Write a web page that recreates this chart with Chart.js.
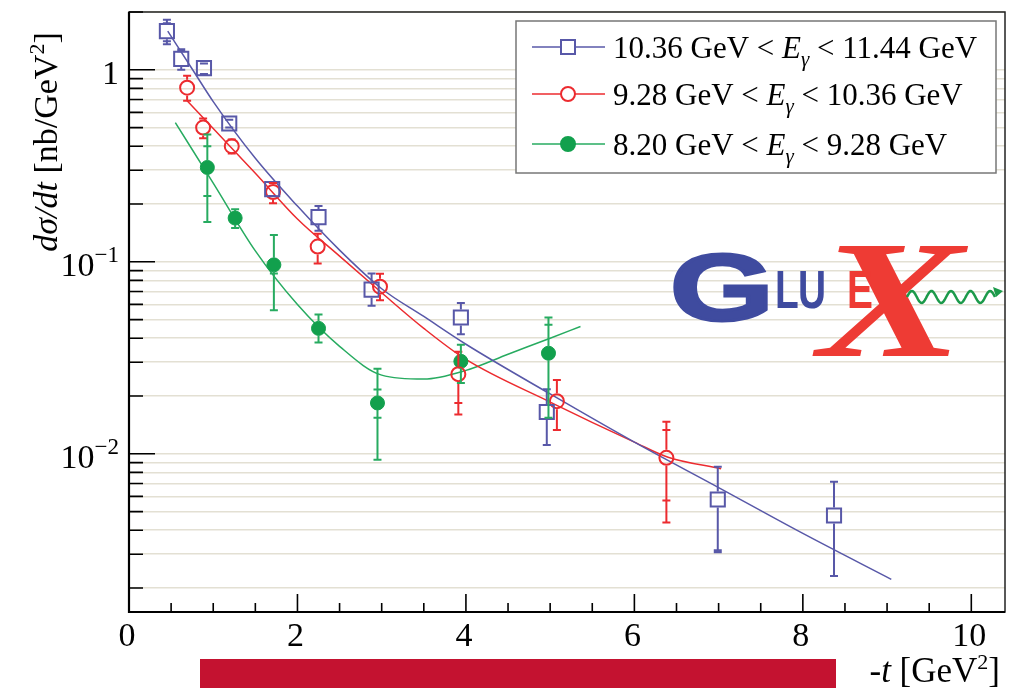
<!DOCTYPE html>
<html>
<head>
<meta charset="utf-8">
<script src="https://cdn.jsdelivr.net/npm/chart.js@4.4.1/dist/chart.umd.min.js"></script>
<style>
  body { margin: 0; background: #fff; }
  canvas { display: block; }
</style>
</head>
<body>
<canvas id="chart" width="1028" height="688"></canvas>
<script>
// Photon energy bins (legend)
var eLow = ['10.36', '9.28', '8.20'];
var eHigh = ['11.44', '10.36', '9.28'];

// 10.36 < E < 11.44 GeV
var blueT = [0.45, 0.62, 0.89, 1.19, 1.70, 2.25, 2.88, 3.94, 4.96, 6.99, 8.37];
var blueY = [1.59, 1.14, 1.02, 0.525, 0.239, 0.171, 0.0716, 0.0513, 0.0165, 0.00578, 0.00477];
var blueHi = [1.82, 1.28, 1.08, 0.55, 0.26, 0.195, 0.087, 0.061, 0.0217, 0.00857, 0.00716];
var blueLo = [1.36, 1.0, 0.95, 0.50, 0.22, 0.145, 0.059, 0.042, 0.0111, 0.00307, 0.00231];
var blueStatHi = [1.75, 1.25, null, null, null, null, null, null, null, null, null];
var blueStatLo = [1.41, null, null, null, null, null, null, null, null, 0.00315, null];

// 9.28 < E < 10.36 GeV
var redT = [0.69, 0.88, 1.22, 1.71, 2.24, 2.98, 3.91, 5.08, 6.38];
var redY = [0.807, 0.50, 0.40, 0.231, 0.12, 0.0742, 0.026, 0.0188, 0.00953];
var redHi = [0.93, 0.557, 0.434, 0.257, 0.14, 0.0866, 0.034, 0.0242, 0.0147];
var redLo = [0.69, 0.44, 0.367, 0.202, 0.098, 0.063, 0.016, 0.0133, 0.00439];
var redStatHi = [null, null, null, null, null, null, null, null, 0.0133];
var redStatLo = [null, null, null, null, null, null, 0.0184, null, 0.00571];

// 8.20 < E < 9.28 GeV
var greenT = [0.93, 1.26, 1.72, 2.25, 2.95, 3.94, 4.98];
var greenY = [0.31, 0.169, 0.0964, 0.045, 0.0184, 0.0303, 0.0334];
var greenHi = [0.46, 0.188, 0.138, 0.0532, 0.0277, 0.037, 0.0513];
var greenLo = [0.161, 0.15, 0.0559, 0.038, 0.0093, 0.0234, 0.0154];
var greenStatHi = [0.40, null, null, null, 0.0216, null, 0.047];
var greenStatLo = [0.22, null, 0.087, null, 0.0154, null, null];

// fit curves
var blueFitT = [0.46, 0.75, 1.0, 1.5, 2.0, 2.5, 3.0, 3.5, 4.0, 5.0, 6.0, 7.0, 8.0, 9.05];
var blueFitY = [1.59, 1.01, 0.683, 0.346, 0.195, 0.115, 0.0724, 0.0519, 0.0372, 0.0205, 0.0115, 0.00667, 0.00385, 0.00222];
var redFitT = [0.69, 1.0, 1.5, 2.0, 2.5, 3.0, 3.5, 4.0, 5.0, 6.0, 6.4, 7.03];
var redFitY = [0.69, 0.494, 0.289, 0.167, 0.107, 0.069, 0.045, 0.031, 0.0186, 0.0115, 0.0096, 0.00836];
var greenFitT = [0.55, 1.0, 1.5, 2.0, 2.5, 3.0, 3.5, 4.0, 4.5, 5.0, 5.36];
var greenFitY = [0.531, 0.257, 0.114, 0.0599, 0.0363, 0.0257, 0.0245, 0.0272, 0.033, 0.040, 0.046];

// axis ticks
var xMajor = [0, 2, 4, 6, 8, 10];
var yMajor = [1, 0.1, 0.01];
var yMajorExp = ['', '\u22121', '\u22122'];

var BLUE = '#5858a8';
var RED = '#ec2b2f';
var GREEN = '#12a04d';
var GREEN_LINE = '#27ab60';
var SERIF = '"Liberation Serif", "Times New Roman", serif';

function pts(xs, ys) {
    return xs.map(function(x, i) { return { x: x, y: ys[i] }; });
}

// minor log grid: 2..9 x 10^n plus the decades
var yGrid = [];
for (var e = -3; e <= 0; e++) {
    for (var m = 1; m <= 9; m++) {
        var v = m * Math.pow(10, e);
        if (v >= 0.0015 && v <= 2.0) yGrid.push(v);
    }
}

// error bars, ROOT style (no line inside the marker), caps at total and stat ends
function drawErrors(ch, xs, ys, lo, hi, sLo, sHi, color, gap) {
    var c = ch.ctx, sx = ch.scales.x, sy = ch.scales.y;
    c.save();
    c.strokeStyle = color;
    c.lineWidth = 2;
    for (var i = 0; i < xs.length; i++) {
        var px = sx.getPixelForValue(xs[i]);
        var py = sy.getPixelForValue(ys[i]);
        var pHi = sy.getPixelForValue(hi[i]);
        var pLo = sy.getPixelForValue(lo[i]);
        c.beginPath();
        if (py - gap > pHi) { c.moveTo(px, py - gap); c.lineTo(px, pHi); }
        if (py + gap < pLo) { c.moveTo(px, py + gap); c.lineTo(px, pLo); }
        c.moveTo(px - 4, pHi); c.lineTo(px + 4, pHi);
        c.moveTo(px - 4, pLo); c.lineTo(px + 4, pLo);
        [sHi[i], sLo[i]].forEach(function(s) {
            if (s === null) return;
            var ps = sy.getPixelForValue(s);
            c.moveTo(px - 4, ps); c.lineTo(px + 4, ps);
        });
        c.stroke();
    }
    c.restore();
}

// text pieces: [text, font, dy]
function drawPieces(c, pieces, x, y) {
    pieces.forEach(function(p) {
        c.font = p[1];
        c.fillText(p[0], x, y + (p[2] || 0));
        x += c.measureText(p[0]).width;
    });
    return x;
}
function piecesWidth(c, pieces) {
    var w = 0;
    pieces.forEach(function(p) { c.font = p[1]; w += c.measureText(p[0]).width; });
    return w;
}

function drawMarker(c, kind, x, y, color) {
    c.save();
    c.lineWidth = 2;
    c.strokeStyle = color;
    c.fillStyle = kind === 'dot' ? color : '#fff';
    c.beginPath();
    if (kind === 'square') c.rect(x - 7, y - 7, 14, 14);
    else c.arc(x, y, 7, 0, Math.PI * 2);
    c.fill();
    c.stroke();
    c.restore();
}

var rootStyle = {
    id: 'rootStyle',
    afterDatasetsDraw: function(ch) {
        drawErrors(ch, blueT, blueY, blueLo, blueHi, blueStatLo, blueStatHi, BLUE, 8);
        drawErrors(ch, redT, redY, redLo, redHi, redStatLo, redStatHi, RED, 8);
        drawErrors(ch, greenT, greenY, greenLo, greenHi, greenStatLo, greenStatHi, GREEN_LINE, 7);
    },
    afterDraw: function(ch) {
        var c = ch.ctx, a = ch.chartArea, sx = ch.scales.x, sy = ch.scales.y;
        c.save();

        // frame
        c.strokeStyle = '#222';
        c.lineWidth = 1.5;
        c.strokeRect(a.left, a.top, a.right - a.left, a.bottom - a.top);
        c.strokeStyle = '#000';
        c.lineWidth = 2.2;
        c.beginPath();
        c.moveTo(a.left, a.top); c.lineTo(a.left, a.bottom); c.lineTo(a.right, a.bottom);
        c.stroke();

        // ticks
        c.lineWidth = 1.6;
        c.beginPath();
        for (var t = 0; t <= 10.01; t += 0.5) {
            var px = sx.getPixelForValue(t);
            var len = (Math.abs(t % 2) < 0.01) ? 18 : 9;
            c.moveTo(px, a.bottom); c.lineTo(px, a.bottom - len);
        }
        yGrid.forEach(function(v) {
            var py = sy.getPixelForValue(v);
            var len = yMajor.indexOf(v) >= 0 ? 26 : 14;
            c.moveTo(a.left, py); c.lineTo(a.left + len, py);
        });
        c.stroke();

        // tick labels
        c.fillStyle = '#000';
        c.textBaseline = 'alphabetic';
        c.font = '34px ' + SERIF;
        c.textAlign = 'center';
        xMajor.forEach(function(t) {
            c.fillText(String(t), sx.getPixelForValue(t) - 2, 646);
        });
        c.textAlign = 'left';
        yMajor.forEach(function(v, i) {
            var py = sy.getPixelForValue(v);
            var pieces = yMajorExp[i] ? [['10', '34px ' + SERIF, 0], [yMajorExp[i], '23px ' + SERIF, -14]] : [['1', '34px ' + SERIF, 0]];
            var w = piecesWidth(c, pieces);
            drawPieces(c, pieces, 119 - w, py + 14);
        });

        // axis titles
        var yt = [['d\u03c3/dt', 'italic 34px ' + SERIF], [' [nb/GeV', '34px ' + SERIF], ['2', '22px ' + SERIF, -13], [']', '34px ' + SERIF]];
        c.save();
        c.translate(57, 142);
        c.rotate(-Math.PI / 2);
        drawPieces(c, yt, -piecesWidth(c, yt) / 2, 0);
        c.restore();
        var xt = [['-', '35px ' + SERIF], ['t', 'italic 35px ' + SERIF], [' [GeV', '35px ' + SERIF], ['2', '22px ' + SERIF, -13], [']', '35px ' + SERIF]];
        drawPieces(c, xt, 1000 - piecesWidth(c, xt), 682);

        // legend
        c.fillStyle = '#fff';
        c.fillRect(516, 21, 480, 152);
        c.strokeStyle = '#777';
        c.lineWidth = 1.5;
        c.strokeRect(516, 21, 480, 152);
        var kinds = ['square', 'circle', 'dot'];
        var cols = [BLUE, RED, GREEN];
        var lcols = [BLUE, RED, GREEN_LINE];
        var rowsY = [47, 94, 144];
        for (var i = 0; i < 3; i++) {
            var y = rowsY[i];
            c.strokeStyle = lcols[i];
            c.lineWidth = 1.5;
            c.beginPath(); c.moveTo(532, y); c.lineTo(605, y); c.stroke();
            drawMarker(c, kinds[i], 568, y, cols[i]);
            c.fillStyle = '#000';
            drawPieces(c, [
                [eLow[i] + ' GeV < ', '31px ' + SERIF],
                ['E', 'italic 31px ' + SERIF],
                ['\u03b3', 'italic 21px ' + SERIF, 8],
                [' < ' + eHigh[i] + ' GeV', '31px ' + SERIF]
            ], 613, y + 11);
        }

        // GlueX logo
        var LOGO_BLUE = '#3f4b9f', LOGO_RED = '#ee3b34';
        c.save();
        c.fillStyle = LOGO_RED;
        c.translate(818, 356);
        c.scale(1.3, 1);
        c.font = 'bold italic 168px ' + SERIF;
        c.fillText('X', 0, 0);
        c.restore();

        c.save();
        c.fillStyle = LOGO_BLUE;
        c.strokeStyle = LOGO_BLUE;
        c.lineWidth = 3;
        c.translate(670, 320);
        c.scale(1.42, 1);
        c.font = 'bold 94px "Liberation Sans", sans-serif';
        c.fillText('G', 0, 0);
        c.strokeText('G', 0, 0);
        c.restore();

        c.save();
        c.translate(775, 308);
        c.scale(0.72, 1);
        c.font = 'bold 54px "Liberation Sans", sans-serif';
        c.fillStyle = LOGO_BLUE;
        c.fillText('L', 0, 0);
        c.fillText('U', 32, 0);
        c.fillStyle = LOGO_RED;
        c.fillText('E', 100, 0);
        c.restore();

        // gluon wave
        c.strokeStyle = '#1c9a4a';
        c.lineWidth = 2.5;
        c.beginPath();
        for (var k = 0; k <= 88; k++) {
            var wx = 907 + k, wy = 297 - 6 * Math.sin(k / 88 * Math.PI * 9);
            if (k === 0) c.moveTo(wx, wy); else c.lineTo(wx, wy);
        }
        c.stroke();
        c.fillStyle = '#1c9a4a';
        c.beginPath();
        c.moveTo(1003, 291); c.lineTo(993, 287); c.lineTo(996, 297); c.closePath();
        c.fill();

        // red bar
        c.fillStyle = '#c41230';
        c.fillRect(200, 659, 636, 29);
        c.restore();
    }
};

var ctx = document.getElementById('chart').getContext('2d');
var chart = new Chart(ctx, {
    type: 'scatter',
    data: {
        datasets: [
            { type: 'line', data: pts(blueFitT, blueFitY), borderColor: BLUE, borderWidth: 1.5, pointRadius: 0, cubicInterpolationMode: 'monotone', fill: false, order: 5 },
            { type: 'line', data: pts(redFitT, redFitY), borderColor: RED, borderWidth: 1.5, pointRadius: 0, cubicInterpolationMode: 'monotone', fill: false, order: 5 },
            { type: 'line', data: pts(greenFitT, greenFitY), borderColor: GREEN_LINE, borderWidth: 1.5, pointRadius: 0, cubicInterpolationMode: 'monotone', fill: false, order: 5 },
            { data: pts(blueT, blueY), pointStyle: 'rect', pointRadius: 10, borderColor: BLUE, borderWidth: 2, backgroundColor: 'rgba(255,255,255,0)', order: 1 },
            { data: pts(redT, redY), pointStyle: 'circle', pointRadius: 7, borderColor: RED, borderWidth: 2, backgroundColor: 'rgba(255,255,255,0)', order: 1 },
            { data: pts(greenT, greenY), pointStyle: 'circle', pointRadius: 7, borderColor: GREEN, borderWidth: 1, backgroundColor: GREEN, order: 1 }
        ]
    },
    options: {
        responsive: false,
        animation: false,
        devicePixelRatio: 1,
        layout: { padding: { top: 10, right: 23, left: 0, bottom: 0 } },
        plugins: { legend: { display: false }, tooltip: { enabled: false } },
        scales: {
            x: {
                type: 'linear', min: 0, max: 10.4,
                grid: { display: false }, border: { display: false },
                ticks: { display: false },
                afterFit: function(s) { s.height = 76; }
            },
            y: {
                type: 'logarithmic', min: 0.0015, max: 2,
                grid: { color: '#e3e0d3', lineWidth: 1.6, drawTicks: false },
                border: { display: false },
                ticks: { display: false },
                afterBuildTicks: function(s) { s.ticks = yGrid.map(function(v) { return { value: v }; }); },
                afterFit: function(s) { s.width = 129; }
            }
        }
    },
    plugins: [rootStyle]
});
</script>
</body>
</html>
